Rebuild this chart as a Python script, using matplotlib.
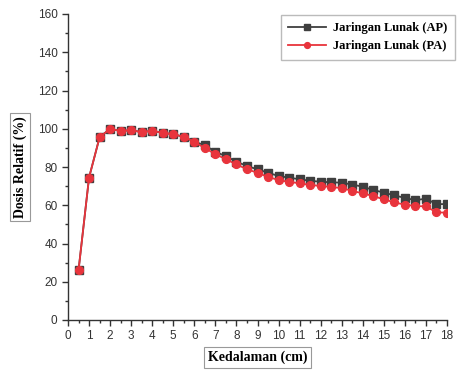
import matplotlib
matplotlib.use("Agg")
import matplotlib.pyplot as plt
from matplotlib.ticker import MultipleLocator

depth = [0.5, 1, 1.5, 2, 2.5, 3, 3.5, 4, 4.5, 5, 5.5, 6, 6.5, 7, 7.5, 8, 8.5, 9,
         9.5, 10, 10.5, 11, 11.5, 12, 12.5, 13, 13.5, 14, 14.5, 15, 15.5, 16, 16.5, 17, 17.5, 18]
ap = [26, 74.5, 95.5, 100, 98.8, 99.3, 98.2, 99, 97.8, 97.2, 95.7, 93.3, 91.3, 88, 85.6, 82.8,
      80.5, 78.8, 77, 75.3, 74.4, 73.6, 72.8, 72.3, 72, 71.8, 70.8, 69.7, 68, 66.6, 65.2, 63.8,
      62.7, 63.4, 60.6, 60.6]
pa = [26, 74.5, 95.5, 100, 98.8, 99.3, 98.2, 99, 97.8, 97.2, 95.7, 93.2, 89.8, 86.8, 84, 81.4,
      78.8, 77, 74.8, 73.2, 72.2, 71.5, 70.6, 70.1, 69.5, 69, 67.5, 66.2, 64.8, 63.1, 61.5, 60.3,
      59.6, 59.4, 56.3, 56.1]
labels = ["Jaringan Lunak (AP)", "Jaringan Lunak (PA)"]

fig = plt.figure(figsize=(4.57, 3.71), dpi=100)
ax = fig.add_axes([68/457, 51/371, 379/457, 306/371])

ax.plot(depth, ap, color="#3f3f3f", lw=1.3, marker="s", ms=5.2, label=labels[0])
ax.plot(depth, pa, color="#e8343c", lw=1.3, marker="o", ms=5.6, label=labels[1])

ax.set_xlim(0, 18)
ax.set_ylim(0, 160)
ax.xaxis.set_major_locator(MultipleLocator(1))
ax.xaxis.set_minor_locator(MultipleLocator(0.5))
ax.yaxis.set_major_locator(MultipleLocator(20))
ax.yaxis.set_minor_locator(MultipleLocator(10))
for s in ["top", "right"]:
    ax.spines[s].set_visible(False)
for s in ["left", "bottom"]:
    ax.spines[s].set_color("#333333")
    ax.spines[s].set_linewidth(1.0)
ax.tick_params(which="major", direction="out", length=4, width=1, colors="#333333",
               labelsize=8.5, labelcolor="#333333")
ax.tick_params(which="minor", direction="out", length=2.5, width=1, colors="#333333")
for t in ax.get_xticklabels() + ax.get_yticklabels():
    t.set_family("Liberation Sans")

box = dict(boxstyle="square,pad=0.25", fc="white", ec="#999999", lw=0.8)
ax.set_xlabel("Kedalaman (cm)", family="Liberation Serif", weight="bold", fontsize=10,
              bbox=box, labelpad=6)
ax.set_ylabel("Dosis Relatif (%)", family="Liberation Serif", weight="bold", fontsize=10,
              bbox=box, labelpad=8)

leg = ax.legend(loc="upper right", bbox_to_anchor=(455/457, 1 - 15/371), bbox_transform=fig.transFigure,
                prop={"family": "Liberation Serif", "weight": "bold", "size": 9},
                fancybox=False, edgecolor="#bbbbbb", framealpha=1, handlelength=3.0,
                borderpad=0.6, labelspacing=0.45, borderaxespad=0, markerscale=0.75,
                handletextpad=0.6)

fig.savefig("out.png", dpi=100)
